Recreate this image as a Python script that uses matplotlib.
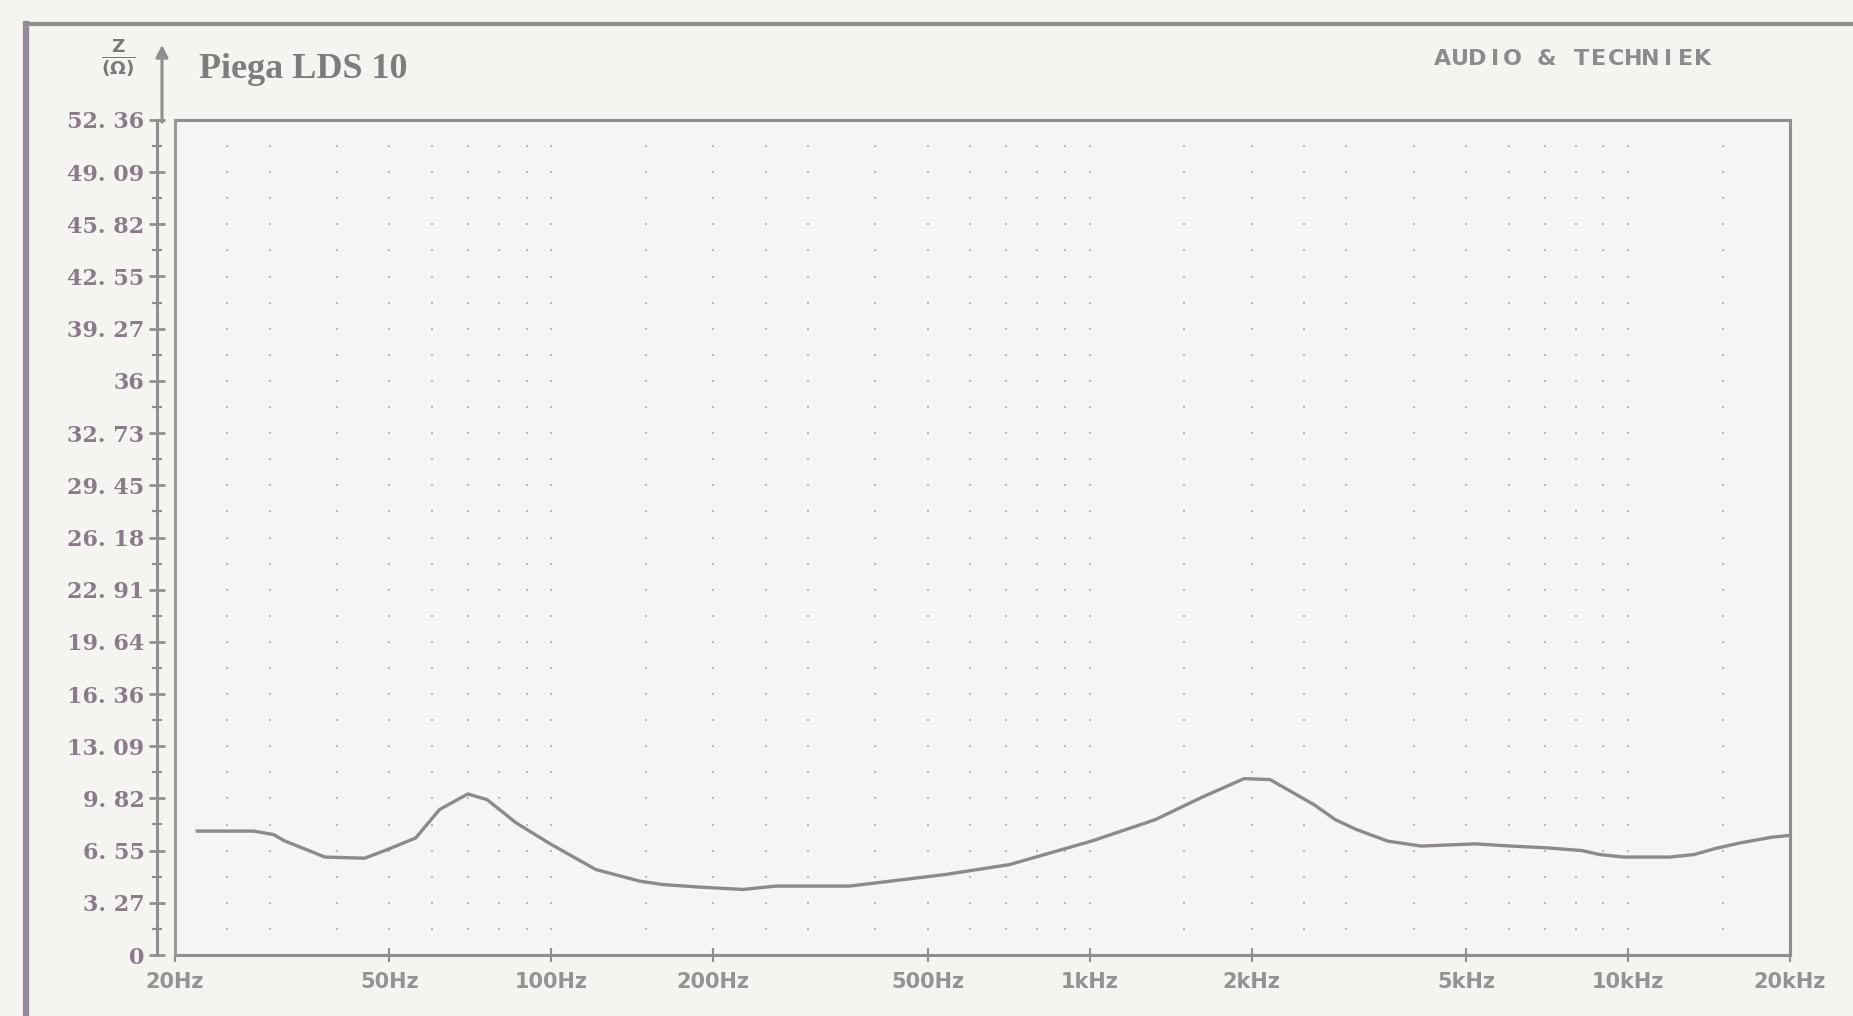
import numpy as np
import matplotlib
matplotlib.use("Agg")
import matplotlib.pyplot as plt
from matplotlib.lines import Line2D
from matplotlib.ticker import FixedLocator, NullLocator

# ---------------- data ----------------
freq_hz = [22, 28, 30.5, 32, 38, 45, 49.5, 56, 62, 70, 76, 86, 100, 121, 146,
           161, 188, 227, 261, 358, 540, 710, 1010, 1325, 1607, 1936, 2164,
           2610, 2860, 3130, 3580, 3770, 4130, 5210, 6070, 7060, 8210, 8860,
           9830, 11940, 13270, 14540, 16170, 18530, 20000]
impedance_ohm = [7.77, 7.77, 7.55, 7.15, 6.14, 6.07, 6.6, 7.34, 9.12, 10.1,
                 9.74, 8.29, 6.93, 5.36, 4.63, 4.42, 4.26, 4.11, 4.32, 4.32,
                 5.05, 5.67, 7.15, 8.49, 9.85, 11.06, 11.0, 9.43, 8.49, 7.87,
                 7.14, 7.03, 6.83, 6.97, 6.83, 6.72, 6.55, 6.3, 6.14, 6.14,
                 6.3, 6.68, 7.03, 7.39, 7.5]

y_tick_values = [0, 3.27, 6.55, 9.82, 13.09, 16.36, 19.64, 22.91, 26.18,
                 29.45, 32.73, 36, 39.27, 42.55, 45.82, 49.09, 52.36]
y_tick_labels = ["0", "3. 27", "6. 55", "9. 82", "13. 09", "16. 36", "19. 64",
                 "22. 91", "26. 18", "29. 45", "32. 73", "36", "39. 27",
                 "42. 55", "45. 82", "49. 09", "52. 36"]
x_tick_values = [20, 50, 100, 200, 500, 1000, 2000, 5000, 10000, 20000]
x_tick_labels = ["20Hz", "50Hz", "100Hz", "200Hz", "500Hz", "1kHz", "2kHz",
                 "5kHz", "10kHz", "20kHz"]
title = "Piega LDS 10"
brand = "AUDIO & TECHNIEK"

# ---------------- figure ----------------
W, H = 1853, 1016
fig = plt.figure(figsize=(W / 100, H / 100), dpi=100, facecolor="#f4f4f1")

ax_left, ax_right, ax_top, ax_bot = 175, 1790, 120, 955
ax = fig.add_axes([ax_left / W, 1 - ax_bot / H, (ax_right - ax_left) / W,
                   (ax_bot - ax_top) / H])
ax.set_facecolor("#f5f5f3")
ax.set_xscale("log")
ax.set_xlim(20, 20000)
ax.set_ylim(0, 52.36)

frame_col = "#8f8f8f"

# dotted grid (dots at intersections, like the printer output)
grid_f = [m * 10 ** k for k in (1, 2, 3, 4)
          for m in (1, 1.5, 2, 2.5, 3, 4, 5, 6, 7, 8, 9)
          if 20 < m * 10 ** k < 20000]
grid_y = np.arange(1, 32) * 52.36 / 32
GX, GY = np.meshgrid(grid_f, grid_y)
ax.scatter(GX.ravel(), GY.ravel(), s=4, marker="s", c="#a0a0a0",
           linewidths=0, alpha=0.7, zorder=1)

# impedance curve
ax.plot(freq_hz, impedance_ohm, color="#8e898b", lw=2.4, zorder=3)

# spines
for s in ax.spines.values():
    s.set_color(frame_col)
    s.set_linewidth(2.2)
ax.spines["left"].set_position(("outward", 13))
ax.axvline(20, color="#9a9a9a", lw=2.2, clip_on=False, zorder=4)

# y ticks
ax.yaxis.set_major_locator(FixedLocator(y_tick_values))
ax.set_yticklabels(y_tick_labels)
mids = [(a + b) / 2 for a, b in zip(y_tick_values[:-1], y_tick_values[1:])]
ax.yaxis.set_minor_locator(FixedLocator(mids))
ax.tick_params(axis="y", which="major", direction="inout", length=12,
               width=2, color=frame_col, pad=3, labelsize=16,
               labelcolor="#8a7a8a")
ax.tick_params(axis="y", which="minor", direction="inout", length=7,
               width=1.5, color=frame_col)
for lab in ax.get_yticklabels():
    lab.set_fontfamily(["DejaVu Serif"])
    lab.set_fontweight("bold")

# x ticks
ax.xaxis.set_major_locator(FixedLocator(x_tick_values))
ax.xaxis.set_minor_locator(NullLocator())
ax.set_xticklabels(x_tick_labels)
ax.tick_params(axis="x", which="major", direction="inout", length=10,
               width=1.5, color=frame_col, pad=7, labelsize=15,
               labelcolor="#939393")
for lab in ax.get_xticklabels():
    lab.set_fontfamily(["DejaVu Sans"])
    lab.set_fontweight("bold")

# arrow on the y axis
ax.annotate("", xy=(162, H - 42), xycoords="figure pixels",
            xytext=(162, H - 125), textcoords="figure pixels",
            arrowprops=dict(arrowstyle="-|>", color=frame_col, lw=2.2,
                            mutation_scale=18))

# scan border
fig.add_artist(Line2D([26 / W, 26 / W], [0, 1 - 24 / H],
                      transform=fig.transFigure, color="#958a99", lw=4.5))
fig.add_artist(Line2D([26 / W, 1], [1 - 24 / H, 1 - 24 / H],
                      transform=fig.transFigure, color="#8f8f8f", lw=3))

# texts
fig.text(199 / W, 1 - 69 / H, title, fontsize=26, fontweight="bold",
         family=["Liberation Serif", "DejaVu Serif"], color="#7d7d7d",
         ha="left", va="center")
# brand, printed with wide letter spacing
x0, pitch = 1443, 17.3
for i, ch in enumerate(brand):
    fig.text((x0 + i * pitch) / W, 1 - 59 / H, ch, fontsize=16,
             fontweight="bold", color="#8c8c8c",
             family=["Liberation Sans Narrow", "DejaVu Sans"],
             ha="center", va="center")
fig.text(118 / W, 1 - 57 / H, r"$\frac{\mathbf{Z}}{\mathbf{(\Omega)}}$",
         fontsize=19, color="#7a7a7a", ha="center", va="center")

fig.savefig("out.png", dpi=100, facecolor=fig.get_facecolor())
